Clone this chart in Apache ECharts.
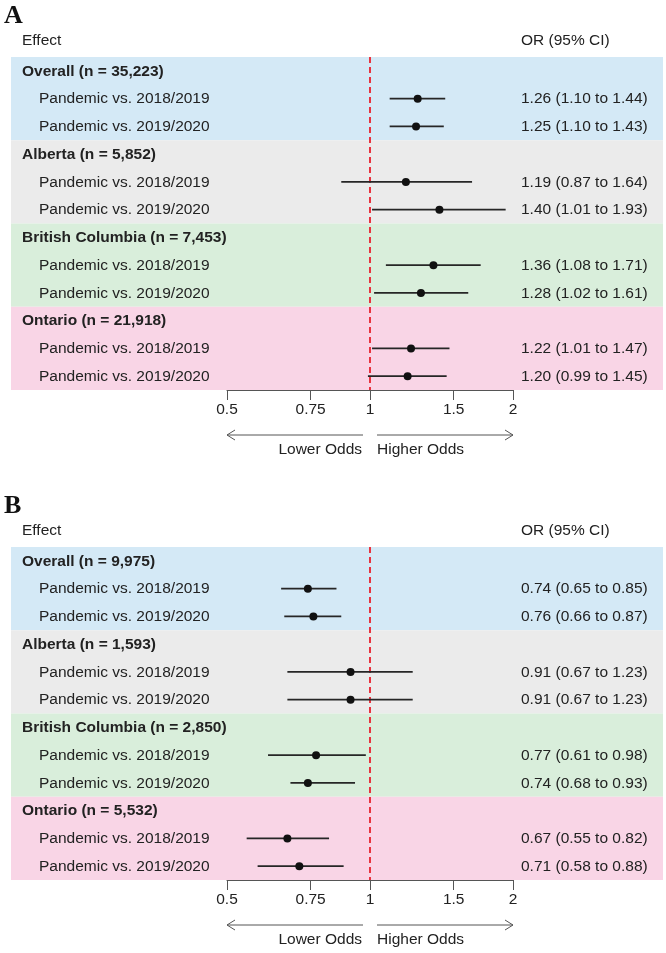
<!DOCTYPE html>
<html>
<head>
<meta charset="utf-8">
<script src="https://cdn.jsdelivr.net/npm/echarts@6/dist/echarts.min.js"></script>
<style>
  html, body { margin: 0; padding: 0; background: #fff; }
  #chart { width: 666px; height: 953px; }
</style>
</head>
<body>
<div id="chart"></div>
<script>
// rows are the same in both panels
let groupNames  = ['Overall', 'Alberta', 'British Columbia', 'Ontario'];
let comparisons = ['Pandemic vs. 2018/2019', 'Pandemic vs. 2019/2020'];
let tickValues  = [0.5, 0.75, 1, 1.5, 2];

// panel A
let nA    = ['35,223', '5,852', '7,453', '21,918'];
let orA   = [1.26, 1.25, 1.19, 1.40, 1.36, 1.28, 1.22, 1.20];
let lowA  = [1.10, 1.10, 0.87, 1.01, 1.08, 1.02, 1.01, 0.99];
let highA = [1.44, 1.43, 1.64, 1.93, 1.71, 1.61, 1.47, 1.45];

// panel B
let nB    = ['9,975', '1,593', '2,850', '5,532'];
let orB   = [0.74, 0.76, 0.91, 0.91, 0.77, 0.74, 0.67, 0.71];
let lowB  = [0.65, 0.66, 0.67, 0.67, 0.61, 0.68, 0.55, 0.58];
let highB = [0.85, 0.87, 1.23, 1.23, 0.98, 0.93, 0.82, 0.88];

let bandColors = ['#d4e9f6', '#ebebeb', '#d9eedb', '#f9d5e6'];
let FONT = '"Liberation Sans", Arial, sans-serif';
let FS = 15.5;
let TXT = '#222';
let panelTops = [57, 547];
let plotH = 333;

let fmt2 = v => v.toFixed(2);
let log2 = v => Math.log(v) / Math.LN2;

let grid = [], xAxis = [], yAxis = [], series = [];

function addPanel(p, n, or, low, high) {
    let top = panelTops[p];
    let bg = p * 2, plot = p * 2 + 1;

    grid.push({ left: 11, right: 3, top: top, height: plotH });
    grid.push({ left: 227, width: 286, top: top, height: plotH });

    xAxis.push({ gridIndex: bg, type: 'value', min: 0, max: 1, show: false });
    xAxis.push({
        gridIndex: plot, type: 'value', min: -1, max: 1, position: 'bottom',
        axisLine: { show: true, onZero: false, lineStyle: { color: '#555', width: 1 } },
        axisTick: { show: true, length: 10, customValues: tickValues.map(log2), lineStyle: { color: '#555' } },
        axisLabel: {
            customValues: tickValues.map(log2), margin: 12,
            fontSize: FS, color: TXT, fontFamily: FONT,
            formatter: v => String(Math.round(Math.pow(2, v) * 100) / 100)
        },
        splitLine: { show: false }
    });
    [bg, plot].forEach(g => yAxis.push({
        gridIndex: g, type: 'value', min: -0.5, max: 11.5, inverse: true, show: false
    }));

    // rows: header + two comparisons per group
    let rows = [];
    groupNames.forEach((g, i) => {
        rows.push({ y: i * 3, text: g + ' (n = ' + n[i] + ')', head: true, ci: '' });
        comparisons.forEach((c, j) => {
            let k = i * 2 + j;
            rows.push({
                y: i * 3 + 1 + j, text: c, head: false,
                ci: fmt2(or[k]) + ' (' + fmt2(low[k]) + ' to ' + fmt2(high[k]) + ')'
            });
        });
    });

    // coloured bands
    series.push({
        type: 'custom', xAxisIndex: bg, yAxisIndex: bg, z: 0, silent: true,
        data: groupNames.map((g, i) => [0, i]),
        renderItem: (params, api) => {
            let gi = api.value(1);
            let y0 = api.coord([0, gi * 3 - 0.5])[1];
            let y1 = api.coord([0, gi * 3 + 2.5])[1];
            let cs = params.coordSys;
            return {
                type: 'rect',
                shape: { x: cs.x, y: y0, width: cs.width, height: y1 - y0 },
                style: { fill: bandColors[gi] }
            };
        }
    });

    // row texts
    series.push({
        type: 'custom', xAxisIndex: bg, yAxisIndex: bg, z: 5, silent: true,
        data: rows.map(r => [0, r.y]),
        renderItem: (params, api) => {
            let r = rows[params.dataIndex];
            let y = api.coord([0, r.y])[1] + 0.5;
            let cs = params.coordSys;
            return {
                type: 'group',
                children: [{
                    type: 'text',
                    style: {
                        text: r.text, x: cs.x + (r.head ? 11 : 28), y: y,
                        fill: TXT, fontSize: FS, fontFamily: FONT,
                        fontWeight: r.head ? 'bold' : 'normal',
                        align: 'left', verticalAlign: 'middle'
                    }
                }, {
                    type: 'text',
                    style: {
                        text: r.ci, x: cs.x + 510, y: y,
                        fill: TXT, fontSize: FS, fontFamily: FONT,
                        align: 'left', verticalAlign: 'middle'
                    }
                }]
            };
        }
    });

    // odds ratios with CI
    let pts = [];
    groupNames.forEach((g, i) => comparisons.forEach((c, j) => {
        let k = i * 2 + j;
        pts.push([log2(low[k]), log2(high[k]), log2(or[k]), i * 3 + 1 + j]);
    }));
    series.push({
        type: 'custom', xAxisIndex: plot, yAxisIndex: plot, z: 4, silent: true,
        data: pts,
        renderItem: (params, api) => {
            let a = api.coord([api.value(0), api.value(3)]);
            let b = api.coord([api.value(1), api.value(3)]);
            let m = api.coord([api.value(2), api.value(3)]);
            return {
                type: 'group',
                children: [{
                    type: 'line',
                    shape: { x1: a[0], y1: a[1], x2: b[0], y2: b[1] },
                    style: { stroke: '#262626', lineWidth: 1.8 }
                }, {
                    type: 'circle',
                    shape: { cx: m[0], cy: m[1], r: 4 },
                    style: { fill: '#111' }
                }]
            };
        },
        markLine: {
            silent: true, symbol: ['none', 'none'], z: 3,
            label: { show: false },
            lineStyle: { color: '#e8333f', type: [6, 4], width: 2 },
            data: [{ xAxis: 0 }]
        }
    });
}

addPanel(0, nA, orA, lowA, highA);
addPanel(1, nB, orB, lowB, highB);

let chart = echarts.init(document.getElementById('chart'), null, { renderer: 'canvas' });
chart.setOption({
    animation: false,
    backgroundColor: '#fff',
    grid: grid, xAxis: xAxis, yAxis: yAxis, series: series
});

// titles, column heads and the direction arrows
let gfx = [];
['A', 'B'].forEach((letter, p) => {
    let off = panelTops[p] - panelTops[0];
    let plot = p * 2 + 1;
    let px = v => chart.convertToPixel({ xAxisIndex: plot }, log2(v));
    let x0 = px(0.5), x1 = px(1), x2 = px(2);
    let axisY = panelTops[p] + plotH;
    let ay = axisY + 45, ly = axisY + 60;
    let stroke = { stroke: '#555', lineWidth: 1, fill: null };

    gfx.push(
        { type: 'text', style: { text: letter, x: 4, y: 16 + off, font: 'bold 26px "Liberation Serif", serif', fill: '#111', verticalAlign: 'middle' } },
        { type: 'text', style: { text: 'Effect', x: 22, y: 41 + off, fill: TXT, fontSize: FS, fontFamily: FONT, verticalAlign: 'middle' } },
        { type: 'text', style: { text: 'OR (95% CI)', x: 521, y: 41 + off, fill: TXT, fontSize: FS, fontFamily: FONT, verticalAlign: 'middle' } },
        { type: 'line', shape: { x1: x0, y1: ay, x2: x1 - 7, y2: ay }, style: stroke },
        { type: 'polyline', shape: { points: [[x0 + 8, ay - 5], [x0, ay], [x0 + 8, ay + 5]] }, style: stroke },
        { type: 'line', shape: { x1: x1 + 7, y1: ay, x2: x2, y2: ay }, style: stroke },
        { type: 'polyline', shape: { points: [[x2 - 8, ay - 5], [x2, ay], [x2 - 8, ay + 5]] }, style: stroke },
        { type: 'text', style: { text: 'Lower Odds', x: x1 - 8, y: ly, fill: TXT, fontSize: FS, fontFamily: FONT, align: 'right', verticalAlign: 'middle' } },
        { type: 'text', style: { text: 'Higher Odds', x: x1 + 7, y: ly, fill: TXT, fontSize: FS, fontFamily: FONT, align: 'left', verticalAlign: 'middle' } }
    );
});
chart.setOption({ graphic: gfx });
</script>
</body>
</html>
